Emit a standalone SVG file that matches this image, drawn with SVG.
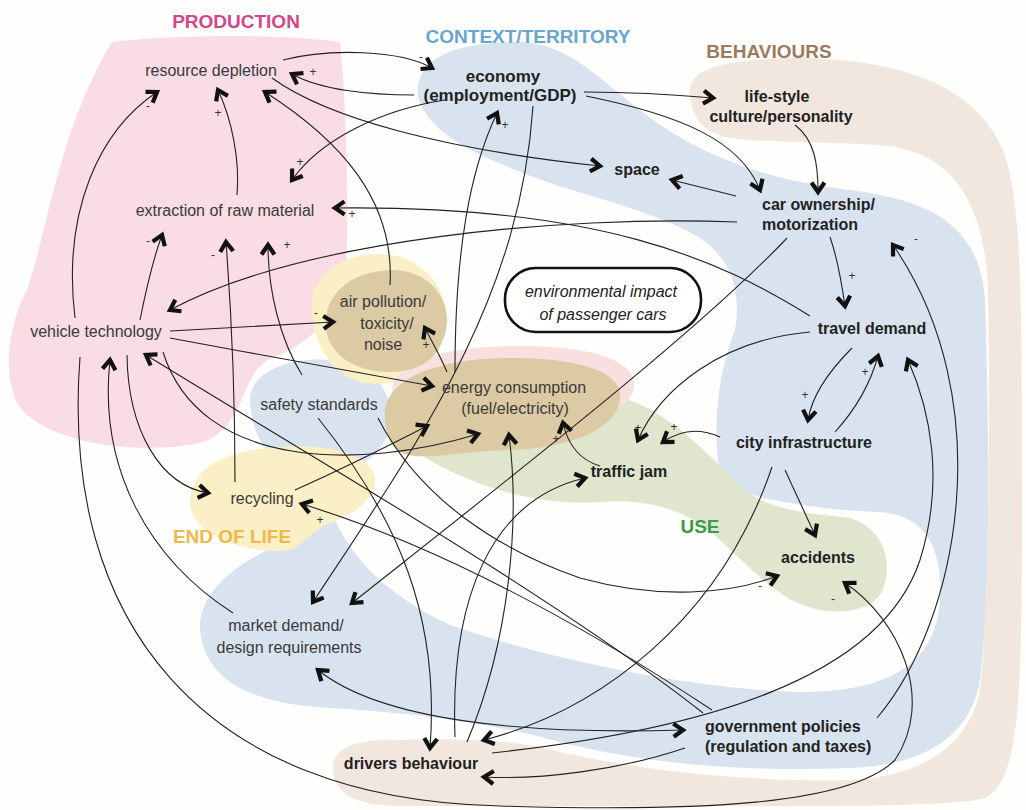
<svg xmlns="http://www.w3.org/2000/svg" width="1026" height="810" viewBox="0 0 1026 810">
  <defs>
    <marker id="chev" viewBox="0 0 18 18" refX="12.5" refY="9" markerWidth="18" markerHeight="18" markerUnits="userSpaceOnUse" orient="auto">
      <path d="M3,2.5 L12.5,9 L3,15.5" fill="none" stroke="#111" stroke-width="4.2" stroke-linejoin="miter"/>
    </marker>
    <marker id="chevStart" viewBox="0 0 18 18" refX="12.5" refY="9" markerWidth="18" markerHeight="18" markerUnits="userSpaceOnUse" orient="auto-start-reverse">
      <path d="M3,2.5 L12.5,9 L3,15.5" fill="none" stroke="#111" stroke-width="4.2" stroke-linejoin="miter"/>
    </marker>
    <style>
      .reg { font-family: "Liberation Sans", Arial, sans-serif; font-size: 16px; fill: #3a3a3a; }
      .bold { font-family: "Liberation Sans", Arial, sans-serif; font-size: 16px; font-weight: bold; fill: #222; }
      .ital { font-family: "Liberation Sans", Arial, sans-serif; font-size: 16px; font-style: italic; fill: #222; }
      .title { font-family: "Liberation Sans", Arial, sans-serif; font-size: 19px; font-weight: bold; }
      .sign { font-family: "Liberation Sans", Arial, sans-serif; font-size: 12px; fill: #333; text-anchor: middle; }
      .mid { text-anchor: middle; }
      .edge { fill: none; stroke: #222; stroke-width: 1.1; marker-end: url(#chev); }
    </style>
  </defs>

  <rect width="1026" height="810" fill="#fefefc"/>

  <!-- thematic areas -->
  <g id="areas">
    <!-- behaviours band -->
    <path d="M690,95 C686,70 720,60 790,58 C900,58 975,85 1003,150 C1022,200 1022,300 1022,500 C1022,700 1020,780 985,798 C950,808 800,806 600,806 L400,806 C350,806 333,790 333,768 C333,748 355,740 390,740 C460,738 520,740 560,752 C650,772 750,782 850,780 C930,776 970,740 980,690 C990,600 990,400 988,290 C985,200 950,150 880,145 C820,142 760,142 730,138 C700,132 692,115 690,95 Z" fill="#f1e7de"/>
    <!-- context / territory -->
    <path d="M418,95 C415,60 450,42 520,42 C570,44 600,80 640,110 C690,150 760,180 850,190 C930,200 980,225 985,300 C990,450 990,600 980,680 C970,740 920,765 850,768 C750,772 650,765 560,742 C480,720 400,712 330,708 C250,704 205,680 200,630 C198,590 240,560 290,540 L330,508 C345,550 380,592 450,625 C550,660 700,690 800,692 C880,692 935,670 940,600 C943,540 920,515 880,512 C820,510 760,500 722,485 C712,440 715,380 735,330 C742,290 730,258 700,238 C650,208 580,196 520,172 C470,152 425,130 418,95 Z" fill="#d9e3f0"/>
    <!-- production -->
    <path d="M112,42 C180,34 290,34 340,42 C348,120 348,220 346,285 C338,320 300,348 268,360 C240,375 245,430 200,443 C140,455 55,445 22,410 C2,385 6,330 26,292 C46,240 58,130 112,42 Z" fill="#f9dce4"/>
    <!-- safety standards area -->
    <path d="M250,402 C248,372 290,356 330,360 C372,364 396,392 390,425 C383,460 352,476 312,472 C272,468 252,440 250,402 Z" fill="#d9e3f0"/>
    <!-- end of life -->
    <path d="M190,505 C190,470 220,452 270,448 C320,442 372,452 375,478 C378,500 350,515 325,525 C308,535 302,545 290,550 C250,556 192,535 190,505 Z" fill="#fbefc6"/>
    <path d="M312,315 C308,280 335,255 375,254 C420,253 448,285 446,322 C444,360 412,385 375,384 C338,383 315,350 312,315 Z" fill="#fbefc6"/>
    <!-- use -->
    <path d="M400,440 C460,410 560,395 605,395 C655,400 695,440 742,488 C772,512 805,512 850,518 C882,528 895,560 882,592 C866,618 818,616 788,598 C760,580 742,560 722,542 C692,512 652,498 600,502 C530,507 450,480 400,440 Z" fill="#dfe6cd"/>
    <!-- energy consumption halo and core -->
    <path d="M392,392 C392,360 450,346 520,346 C590,346 636,360 634,386 C632,410 600,420 520,420 C440,420 392,418 392,392 Z" fill="#f8e0de"/>
    <path d="M385,420 C380,378 440,358 510,358 C580,358 625,372 620,400 C615,430 570,448 510,450 C450,452 420,462 400,452 C390,445 386,432 385,420 Z" fill="#dccaa4"/>
    <!-- air pollution core -->
    <path d="M326,330 C322,295 350,270 395,270 C432,272 452,302 446,330 C440,358 420,372 390,372 C355,372 330,355 326,330 Z" fill="#dccaa4"/>
  </g>

  <!-- area titles -->
  <g id="titles">
    <text class="title mid" x="236" y="28" fill="#d4468b">PRODUCTION</text>
    <text class="title mid" x="528" y="43" fill="#67a6cf">CONTEXT/TERRITORY</text>
    <text class="title mid" x="769" y="58" fill="#9b7a5e">BEHAVIOURS</text>
    <text class="title mid" x="232" y="543" fill="#f2b850">END OF LIFE</text>
    <text class="title mid" x="700" y="533" fill="#3e9a4d">USE</text>
  </g>

  <!-- connectors -->
  <g id="connectors">
    <path class="edge" d="M283,60 C330,48 400,50 432,68"/>
    <path class="edge" d="M414,95 C370,95 320,90 292,74"/>
    <path class="edge" d="M445,100 C380,110 320,140 292,180"/>
    <path class="edge" d="M584,92 C630,92 680,95 713,98"/>
    <path class="edge" d="M586,96 C680,115 740,140 760,190"/>
    <path class="edge" d="M272,78 C330,120 450,150 600,166"/>
    <path class="edge" d="M736,196 L672,180"/>
    <path class="edge" d="M795,125 C815,140 818,165 818,192"/>
    <path class="edge" d="M810,316 C720,260 600,205 335,208"/>
    <path class="edge" d="M737,222 C560,215 300,240 170,310"/>
    <path class="edge" d="M830,237 C838,260 842,285 845,306"/>
    <path class="edge" d="M852,348 C830,370 812,395 808,420"/>
    <path class="edge" d="M835,432 C855,410 870,385 878,356"/>
    <path class="edge" d="M810,332 C720,340 660,390 638,440"/>
    <path class="edge" d="M720,437 C700,428 680,430 663,442"/>
    <path class="edge" d="M600,466 C580,460 568,445 563,423"/>
    <path class="edge" d="M447,372 C440,355 432,342 425,328"/>
    <path class="edge" d="M455,372 C455,250 470,170 497,113"/>
    <path class="edge" d="M533,106 C520,300 420,440 313,602"/>
    <path class="edge" d="M787,238 C700,330 520,470 352,603"/>
    <path class="edge" d="M390,285 C395,200 340,140 265,92"/>
    <path class="edge" d="M237,195 C240,160 232,120 218,90"/>
    <path class="edge" d="M75,318 C62,210 100,130 157,92"/>
    <path class="edge" d="M140,320 C146,290 152,262 162,235"/>
    <path class="edge" d="M235,482 C235,400 232,320 226,242"/>
    <path class="edge" d="M302,375 C280,340 268,290 268,245"/>
    <path class="edge" d="M170,331 C230,328 290,324 333,322"/>
    <path class="edge" d="M170,338 C260,355 360,372 432,386"/>
    <path class="edge" d="M163,352 C200,470 360,470 478,434"/>
    <path class="edge" d="M127,355 C128,430 160,485 208,493"/>
    <path class="edge" d="M80,357 C60,620 200,800 500,806 C700,812 850,805 895,760 C935,700 900,620 845,583"/>
    <path class="edge" d="M233,613 C150,560 98,470 110,360"/>
    <path class="edge" d="M703,713 C560,600 300,450 146,355"/>
    <path class="edge" d="M712,710 C560,610 420,540 302,504"/>
    <path class="edge" d="M295,490 C340,470 390,445 427,426"/>
    <path class="edge" d="M318,418 C400,520 440,620 430,748"/>
    <path class="edge" d="M378,418 C420,500 500,550 580,578 C660,600 730,594 777,576"/>
    <path class="edge" d="M455,737 C450,600 490,500 585,478"/>
    <path class="edge" d="M467,742 C510,640 520,520 509,435"/>
    <path class="edge" d="M772,467 C720,620 600,710 484,740"/>
    <path class="edge" d="M492,753 C700,730 880,680 920,560 C945,480 930,410 908,360"/>
    <path class="edge" d="M685,748 C620,770 540,780 484,777"/>
    <path class="edge" d="M318,670 C380,720 520,735 683,730" marker-start="url(#chevStart)"/>
    <path class="edge" d="M877,718 C960,620 1000,400 893,245"/>
    <path class="edge" d="M785,470 L815,535"/>
  </g>

  <!-- polarity signs -->
  <g id="signs">
    <text class="sign" x="421" y="61">-</text>
    <text class="sign" x="313" y="76">+</text>
    <text class="sign" x="300" y="166">+</text>
    <text class="sign" x="218" y="117">+</text>
    <text class="sign" x="148" y="110">-</text>
    <text class="sign" x="352" y="218">+</text>
    <text class="sign" x="148" y="245">-</text>
    <text class="sign" x="213" y="259">-</text>
    <text class="sign" x="287" y="249">+</text>
    <text class="sign" x="316" y="317">-</text>
    <text class="sign" x="426" y="349">+</text>
    <text class="sign" x="505" y="129">+</text>
    <text class="sign" x="852" y="280">+</text>
    <text class="sign" x="805" y="399">+</text>
    <text class="sign" x="865" y="376">+</text>
    <text class="sign" x="638" y="432">+</text>
    <text class="sign" x="674" y="431">+</text>
    <text class="sign" x="556" y="443">+</text>
    <text class="sign" x="320" y="524">+</text>
    <text class="sign" x="760" y="590">-</text>
    <text class="sign" x="833" y="603">-</text>
    <text class="sign" x="916" y="243">-</text>
  </g>

  <!-- nodes -->
  <g id="resource-depletion"><text class="reg mid" x="211" y="76">resource depletion</text></g>
  <g id="economy">
    <text class="bold mid" x="503" y="82" style="font-size:17px">economy</text>
    <text class="bold mid" x="500" y="101" style="font-size:17px">(employment/GDP)</text>
  </g>
  <g id="life-style">
    <text class="bold mid" x="777" y="102">life-style</text>
    <text class="bold mid" x="781" y="122">culture/personality</text>
  </g>
  <g id="space"><text class="bold mid" x="637" y="175">space</text></g>
  <g id="car-ownership">
    <text class="bold" x="762" y="210">car ownership/</text>
    <text class="bold" x="762" y="230">motorization</text>
  </g>
  <g id="extraction"><text class="reg mid" x="225" y="216">extraction of raw material</text></g>
  <g id="vehicle-technology"><text class="reg mid" x="96" y="337">vehicle technology</text></g>
  <g id="air-pollution">
    <text class="reg mid" x="383" y="307">air pollution/</text>
    <text class="reg mid" x="387" y="329">toxicity/</text>
    <text class="reg mid" x="383" y="350">noise</text>
  </g>
  <g id="environmental-impact">
    <rect x="505" y="268" width="196" height="64" rx="31" fill="#ffffff" stroke="#111" stroke-width="2.6"/>
    <text class="ital mid" x="601" y="297">environmental impact</text>
    <text class="ital mid" x="603" y="320">of passenger cars</text>
  </g>
  <g id="travel-demand"><text class="bold mid" x="872" y="334">travel demand</text></g>
  <g id="energy-consumption">
    <text class="reg mid" x="514" y="393">energy consumption</text>
    <text class="reg mid" x="515" y="414">(fuel/electricity)</text>
  </g>
  <g id="safety-standards"><text class="reg mid" x="319" y="410">safety standards</text></g>
  <g id="city-infrastructure"><text class="bold mid" x="804" y="448">city infrastructure</text></g>
  <g id="traffic-jam"><text class="bold mid" x="629" y="477">traffic jam</text></g>
  <g id="recycling"><text class="reg mid" x="262" y="504">recycling</text></g>
  <g id="accidents"><text class="bold mid" x="818" y="563">accidents</text></g>
  <g id="market-demand">
    <text class="reg mid" x="286" y="631">market demand/</text>
    <text class="reg mid" x="289" y="653">design requirements</text>
  </g>
  <g id="government-policies">
    <text class="bold" x="705" y="732">government policies</text>
    <text class="bold" x="705" y="752">(regulation and taxes)</text>
  </g>
  <g id="drivers-behaviour"><text class="bold mid" x="411" y="769">drivers behaviour</text></g>
</svg>
